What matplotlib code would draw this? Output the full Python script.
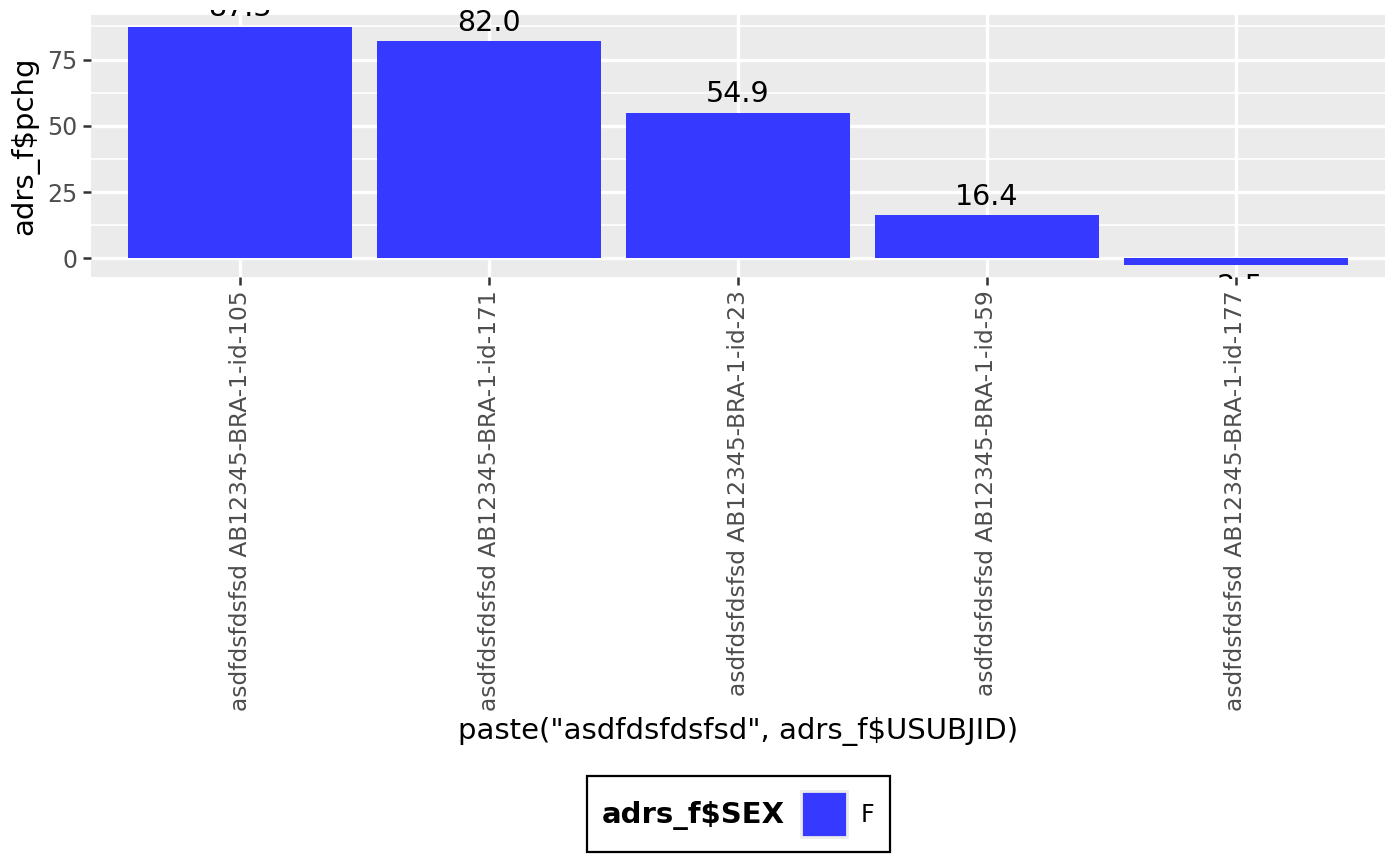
import matplotlib
matplotlib.use("Agg")
import matplotlib.pyplot as plt
from matplotlib.patches import Rectangle
from matplotlib.transforms import Bbox, TransformedBbox, offset_copy
import numpy as np

# data
subjects = ["asdfdsfdsfsd AB12345-BRA-1-id-105",
            "asdfdsfdsfsd AB12345-BRA-1-id-171",
            "asdfdsfdsfsd AB12345-BRA-1-id-23",
            "asdfdsfdsfsd AB12345-BRA-1-id-59",
            "asdfdsfdsfsd AB12345-BRA-1-id-177"]
pchg = [87.3, 82.0, 54.9, 16.4, -2.5]
sex_levels = ["F"]

bar_col = "#3639FF"
panel_bg = "#EBEBEB"
tick_col = "#4D4D4D"

plt.rcParams["font.family"] = "DejaVu Sans"

W, H = 1400, 866
fig = plt.figure(figsize=(14, 8.66), dpi=100)
ax = fig.add_axes([91/W, 1-277/H, (1385-91)/W, (277-15)/H])
ax.set_facecolor(panel_bg)

x = np.arange(1, len(subjects)+1)
ax.bar(x, pchg, width=0.9, color=bar_col, zorder=3)

# value labels are cut a few pixels outside the panel, as in the original
clip = TransformedBbox(Bbox.from_extents(0, 1-279/H, 1, 1-9.5/H), fig.transFigure)
for xi, v in zip(x, pchg):
    if v >= 0:
        tr = offset_copy(ax.transData, fig=fig, y=7.5, units="points")
        va = "baseline"
    else:
        tr = offset_copy(ax.transData, fig=fig, y=-6, units="points")
        va = "top"
    t = ax.text(xi, v, "%.1f" % v, transform=tr, ha="center", va=va,
                fontsize=20.5, color="black", zorder=4)
    t.set_clip_on(True)
    t.set_clip_box(clip)

# ggplot style expansion
lo, hi = min(min(pchg), 0), max(pchg)
pad = (hi - lo) * 0.05
ax.set_ylim(lo - pad, hi + pad)
ax.set_xlim(0.4, len(subjects) + 0.6)

ax.set_yticks([0, 25, 50, 75])
ax.set_yticks([12.5, 37.5, 62.5, 87.5], minor=True)
ax.set_xticks(x)
ax.set_xticklabels(subjects, rotation=90, fontsize=16.8, color=tick_col)
ax.tick_params(axis="y", labelsize=17, labelcolor=tick_col)
ax.tick_params(axis="both", which="major", length=5.5, width=1.8, color="#333333", pad=4)
ax.tick_params(axis="y", which="minor", length=0)
ax.grid(True, which="major", color="white", linewidth=2.4, zorder=0)
ax.grid(True, which="minor", axis="y", color="white", linewidth=1.2, zorder=0)
ax.set_axisbelow(True)
for s in ax.spines.values():
    s.set_visible(False)

ax.set_ylabel("adrs_f$pchg", fontsize=21, labelpad=6)
ax.set_xlabel('paste("asdfdsfdsfsd", adrs_f$USUBJID)', fontsize=21, labelpad=4)

# legend at the bottom, title to the left of the key
fig.patches.append(Rectangle((587/W, 1-852/H), (890-587)/W, (852-776)/H,
                             transform=fig.transFigure, fill=False,
                             edgecolor="black", linewidth=1.6))
fig.text(602/W, 1-815/H, "adrs_f$SEX", fontsize=21, fontweight="bold",
         va="center", ha="left")
fig.patches.append(Rectangle((801/W, 1-837/H), 46/W, 46/H,
                             transform=fig.transFigure, facecolor=bar_col,
                             edgecolor=panel_bg, linewidth=2))
fig.text(861/W, 1-815/H, sex_levels[0], fontsize=17, va="center", ha="left")

fig.savefig("out.png", dpi=100)
